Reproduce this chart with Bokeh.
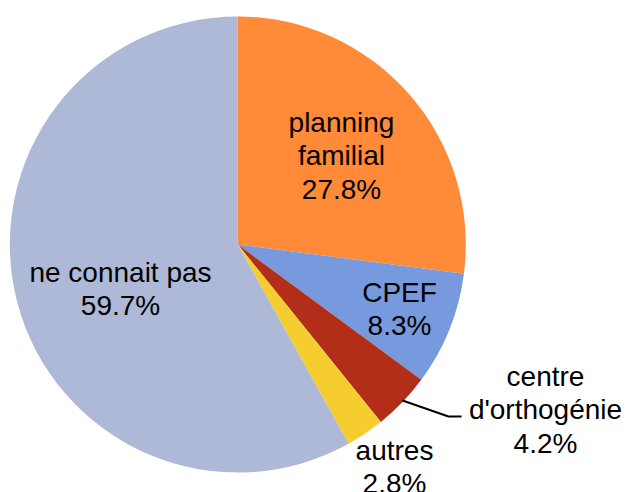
from bokeh.plotting import figure
from bokeh.models import Range1d
from bokeh.core.properties import value
from bokeh.embed import file_html
from bokeh.resources import INLINE
import math

# ---- data ----
categories = ["planning familial", "CPEF", "centre d'orthogénie", "autres", "ne connait pas"]
label_names = ["planning\nfamilial", "CPEF", "centre\nd'orthogénie", "autres", "ne connait pas"]
percentages = [27.8, 8.3, 4.2, 2.8, 59.7]
colors = ["#FF8A38", "#7799DD", "#B22E18", "#F5CD2F", "#AEB9D7"]

# ---- layout (picture pixel positions of labels: center x, first baseline y) ----
label_pos = [(341, 129), (399, 299), (545, 383), (394, 457), (120, 279)]
line_pitch = 33.5
baseline_fix = -7.5

W, H = 630, 492
p = figure(width=W, height=H, x_range=Range1d(0, W), y_range=Range1d(0, H),
           output_backend="svg", toolbar_location=None, min_border=0)
p.axis.visible = False
p.grid.visible = False
p.outline_line_color = None


def px(xp):
    return xp


def py(yp):
    return H - yp


cx, cy, r = px(237.3), py(244), 228
total = sum(percentages)
cum = 0.0
starts, ends = [], []
for v in percentages:
    starts.append(math.radians(90 - cum / total * 360))
    cum += v
    ends.append(math.radians(90 - cum / total * 360))

p.wedge(x=[cx] * len(percentages), y=[cy] * len(percentages), radius=r,
        start_angle=starts, end_angle=ends, direction="clock",
        fill_color=colors, line_color=None)

# leader line for "centre d'orthogénie"
p.line(x=[px(402), px(448), px(461)], y=[py(400), py(416), py(416)],
       line_color="black", line_width=2)

tx, ty, tt = [], [], []
for name, pct, (lx, ly) in zip(label_names, percentages, label_pos):
    lines = name.split("\n") + [f"{pct:.1f}%"]
    for i, ln in enumerate(lines):
        tx.append(px(lx))
        ty.append(py(ly + i * line_pitch + baseline_fix))
        tt.append(ln)

p.text(x=tx, y=ty, text=tt, text_align="center", text_baseline="alphabetic",
       text_font=value("Liberation Sans"), text_font_size="28px", text_color="black")

open("out.html", "w").write(file_html(p, INLINE))
